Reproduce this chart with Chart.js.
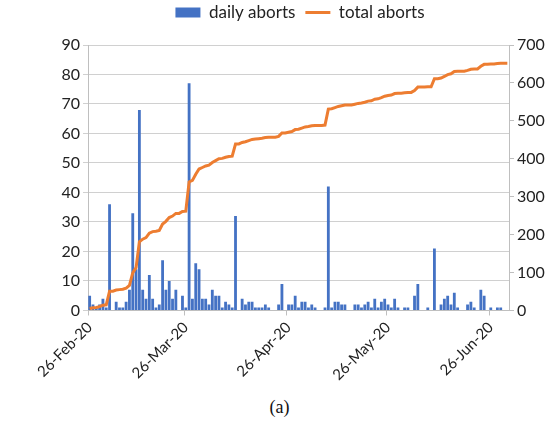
<!DOCTYPE html>
<html>
<head>
<meta charset="utf-8">
<script src="https://cdn.jsdelivr.net/npm/chart.js@4.4.0/dist/chart.umd.min.js"></script>
<style>
  html, body { margin: 0; padding: 0; background: #fff; overflow: hidden; }
  #wrap { position: absolute; left: 0; top: 0; width: 600px; height: 388px; }
  #caption { position: absolute; left: 0; top: 397px; width: 559px; text-align: center;
             font-family: "Liberation Serif", serif; font-size: 18px; color: #111; }
</style>
</head>
<body>
<div id="wrap"><canvas id="grafico"></canvas></div>
<div id="caption">(a)</div>
<script>
// one value per day, 26-Feb-20 .. 1-Jul-20
const dailyAborts = [
  5, 2, 1, 2, 4, 1, 36, 0, 3, 1, 1, 3, 7, 33, 14, 68, 7, 4, 12, 4,
  1, 2, 17, 7, 10, 4, 7, 0, 5, 1, 77, 4, 16, 14, 4, 4, 2, 7, 5, 5,
  1, 3, 2, 1, 32, 0, 4, 2, 3, 3, 1, 1, 1, 2, 1, 0, 0, 2, 9, 0,
  2, 2, 5, 1, 3, 3, 1, 2, 1, 0, 0, 1, 42, 1, 3, 3, 2, 2, 0, 0,
  2, 2, 1, 2, 3, 1, 4, 1, 3, 4, 2, 1, 4, 1, 0, 1, 1, 0, 5, 9,
  0, 0, 1, 0, 21, 0, 2, 4, 5, 2, 6, 1, 0, 0, 2, 3, 1, 0, 7, 5,
  0, 1, 0, 1, 1, 0, 0
];
const totalAborts = [
  5, 7, 8, 10, 14, 15, 51, 51, 54, 55, 56, 59, 66, 99, 113, 181, 188, 192, 204, 208,
  209, 211, 228, 235, 245, 249, 256, 256, 261, 262, 339, 343, 359, 373, 377, 381, 383, 390, 395, 400,
  401, 404, 406, 407, 439, 439, 443, 445, 448, 451, 452, 453, 454, 456, 457, 457, 457, 459, 468, 468,
  470, 472, 477, 478, 481, 484, 485, 487, 488, 488, 488, 489, 531, 532, 535, 538, 540, 542, 542, 542,
  544, 546, 547, 549, 552, 553, 557, 558, 561, 565, 567, 568, 572, 573, 573, 574, 575, 575, 580, 589,
  589, 589, 590, 590, 611, 611, 613, 617, 622, 624, 630, 631, 631, 631, 633, 636, 637, 637, 644, 649,
  649, 650, 650, 651, 652, 652, 652
];
const tickLabels = ["26-Feb-20", "26-Mar-20", "26-Apr-20", "26-May-20", "26-Jun-20"];
const monthNames = ["Jan", "Feb", "Mar", "Apr", "May", "Jun", "Jul"];

const days = [];
const d = new Date(2020, 1, 26);
for (let i = 0; i < dailyAborts.length; i++) {
  days.push(d.getDate() + "-" + monthNames[d.getMonth()] + "-20");
  d.setDate(d.getDate() + 1);
}

const font = "Lato";
const axisGrey = "#bfbfbf";

// extra room under the legend
const legendGap = {
  id: "legendGap",
  beforeInit(chart) {
    const fit = chart.legend.fit;
    chart.legend.fit = function () {
      fit.bind(chart.legend)();
      this.height += 14;
    };
  }
};

new Chart(document.getElementById("grafico"), {
  data: {
    labels: days,
    datasets: [
      {
        type: "bar",
        label: "daily aborts",
        data: dailyAborts,
        backgroundColor: "#4472C4",
        categoryPercentage: 1,
        barPercentage: 0.85,
        yAxisID: "y",
        order: 1
      },
      {
        type: "line",
        label: "total aborts",
        data: totalAborts,
        borderColor: "#ED7D31",
        backgroundColor: "#ED7D31",
        borderWidth: 3,
        pointRadius: 0,
        tension: 0,
        yAxisID: "y1",
        order: 0
      }
    ]
  },
  plugins: [legendGap],
  options: {
    responsive: true,
    maintainAspectRatio: false,
    animation: false,
    layout: { padding: { left: 0, right: 0, top: -6, bottom: 1 } },
    plugins: {
      tooltip: { enabled: false },
      legend: {
        position: "top",
        labels: {
          usePointStyle: true,
          pointStyleWidth: 25,
          boxHeight: 10,
          padding: 10,
          color: "#222",
          font: { family: font, size: 17 },
          sort: (a, b) => a.datasetIndex - b.datasetIndex,
          generateLabels: chart => {
            const items = Chart.defaults.plugins.legend.labels.generateLabels(chart);
            items.forEach(it => { it.pointStyle = it.datasetIndex === 0 ? "rect" : "line"; });
            return items;
          }
        }
      }
    },
    scales: {
      x: {
        offset: true,
        grid: {
          drawOnChartArea: false,
          tickLength: 5,
          color: ctx => (ctx.tick && ctx.tick.label ? axisGrey : "rgba(0,0,0,0)")
        },
        border: { color: axisGrey },
        ticks: {
          autoSkip: false,
          minRotation: 45,
          maxRotation: 45,
          color: "#222",
          font: { family: font, size: 15 },
          callback: function (val) {
            const l = this.getLabelForValue(val);
            return tickLabels.includes(l) ? l : "";
          }
        }
      },
      y: {
        position: "left",
        min: 0,
        max: 90,
        afterFit: axis => { axis.width = 88; },
        ticks: { stepSize: 10, color: "#222", font: { family: font, size: 16 } },
        grid: { color: "#d0d0d0", tickLength: 5 },
        border: { color: axisGrey }
      },
      y1: {
        position: "right",
        min: 0,
        max: 700,
        afterFit: axis => { axis.width = 91; },
        ticks: { stepSize: 100, color: "#222", font: { family: font, size: 16 } },
        grid: { drawOnChartArea: false, color: axisGrey, tickLength: 5 },
        border: { color: axisGrey }
      }
    }
  }
});
</script>
</body>
</html>
